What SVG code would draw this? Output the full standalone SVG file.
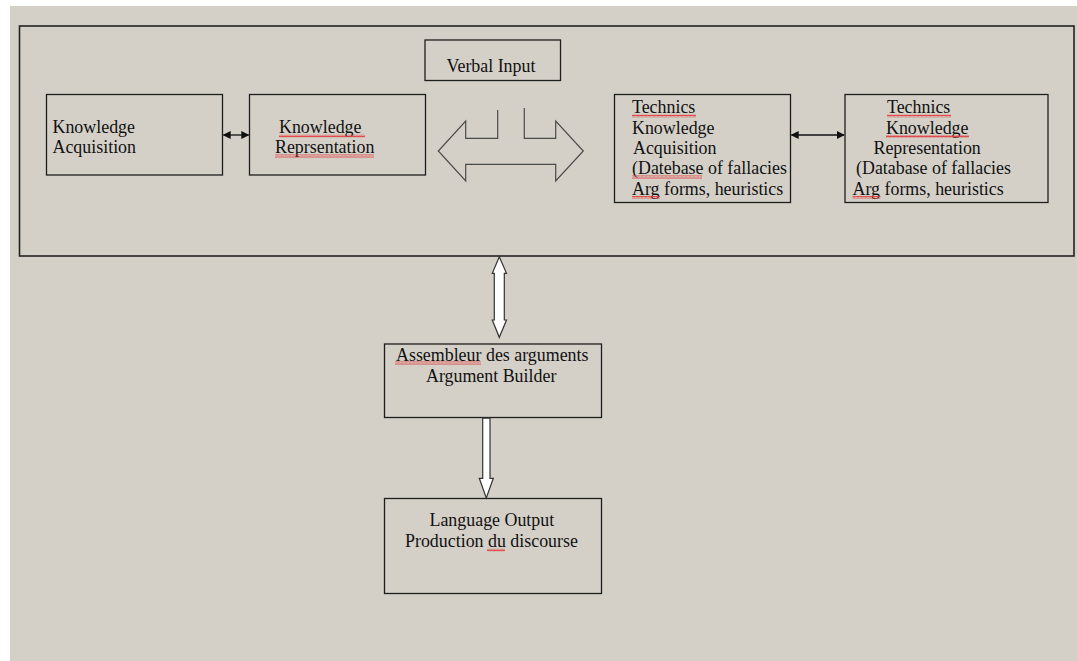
<svg xmlns="http://www.w3.org/2000/svg" width="1077" height="661" viewBox="0 0 1077 661">
<style>
.box{fill:none;stroke:#1e1e1e;stroke-width:1.3}
.t{font-family:"Liberation Serif","Times New Roman",serif;font-size:17.9px;fill:#111}
.conn{fill:none;stroke:#111;stroke-width:1.3}
.fat{fill:#fff;stroke:#333;stroke-width:1.2}
</style>
<defs>
<marker id="ah" viewBox="0 0 10 10" refX="9" refY="5" markerWidth="8" markerHeight="8" markerUnits="userSpaceOnUse" orient="auto-start-reverse">
<path d="M0,0 L10,5 L0,10 z" fill="#111"/>
</marker>
<pattern id="zz" x="0" y="0" width="4" height="3" patternUnits="userSpaceOnUse">
<path d="M0,2.5 L1,0.5 L2,2.5 L3,0.5 L4,2.5" fill="none" stroke="#e04040" stroke-width="0.9"/>
</pattern>
</defs>
<rect x="0" y="0" width="1077" height="661" fill="#ffffff"/>
<rect x="10" y="6" width="1067" height="655" fill="#d4d0c8"/>
<rect x="19.5" y="26" width="1054.5" height="230" fill="none" stroke="#222" stroke-width="1.6"/>

<g id="verbal-input">
<rect class="box" x="425" y="40" width="135.5" height="40.5"/>
<text class="t" x="446.5" y="71.5">Verbal Input</text>
</g>

<g id="knowledge-acquisition">
<rect class="box" x="46.5" y="94.5" width="176" height="80.5"/>
<text class="t" x="52.5" y="133.3">Knowledge</text>
<text class="t" x="52.5" y="153.3">Acquisition</text>
</g>

<g id="knowledge-representation">
<rect class="box" x="249.5" y="94.5" width="176" height="80.5"/>
<text class="t" x="279" y="133.3">Knowledge</text>
<text class="t" x="275" y="153.3">Reprsentation</text>
<rect x="279" y="134.5" width="86" height="3" fill="url(#zz)"/>
<rect x="275" y="154.5" width="99" height="3" fill="url(#zz)"/>
</g>

<g id="technics-acquisition">
<rect class="box" x="614.5" y="94.5" width="176" height="108"/>
<text class="t" x="632" y="113.3">Technics</text>
<text class="t" x="632" y="133.5">Knowledge</text>
<text class="t" x="633" y="153.8">Acquisition</text>
<text class="t" x="632" y="174.3">(Datebase of fallacies</text>
<text class="t" x="632" y="194.8">Arg forms, heuristics</text>
<rect x="632" y="114.5" width="64" height="3" fill="url(#zz)"/>
<rect x="632" y="175.5" width="70" height="3" fill="url(#zz)"/>
<rect x="632" y="196" width="28" height="3" fill="url(#zz)"/>
</g>

<g id="technics-representation">
<rect class="box" x="845" y="94.5" width="203" height="108"/>
<text class="t" x="887" y="113.3">Technics</text>
<text class="t" x="886" y="133.5">Knowledge</text>
<text class="t" x="873.5" y="153.8">Representation</text>
<text class="t" x="856" y="174.3">(Database of fallacies</text>
<text class="t" x="852.5" y="194.8">Arg forms, heuristics</text>
<rect x="887" y="114.5" width="64" height="3" fill="url(#zz)"/>
<rect x="886" y="135" width="83" height="3" fill="url(#zz)"/>
<rect x="852.5" y="196" width="28" height="3" fill="url(#zz)"/>
</g>

<g id="argument-builder">
<rect class="box" x="384.5" y="344" width="217" height="73.5"/>
<text class="t" x="396" y="361">Assembleur des arguments</text>
<text class="t" x="426" y="381.5">Argument Builder</text>
<rect x="395" y="361.5" width="86" height="3" fill="url(#zz)"/>
</g>

<g id="language-output">
<rect class="box" x="384.5" y="498.5" width="217" height="95"/>
<text class="t" x="429.5" y="526">Language Output</text>
<text class="t" x="405" y="546.5">Production du discourse</text>
<rect x="487" y="548.5" width="18" height="3" fill="url(#zz)"/>
</g>

<g id="connectors">
<line class="conn" x1="223.5" y1="135" x2="248.5" y2="135" marker-start="url(#ah)" marker-end="url(#ah)"/>
<line class="conn" x1="791.5" y1="135" x2="844" y2="135" marker-start="url(#ah)" marker-end="url(#ah)"/>
<path d="M497.7,110 V138.3 H465.7 V121 L438.3,151 L465.7,181 V164.3 H555.7 V181 L583.3,151 L555.7,121 V138.3 H524.3 V108" fill="none" stroke="#4a4a4a" stroke-width="1.2"/>
<polygon class="fat" points="499.3,256.7 506.5,273.3 504.3,273.3 504.3,320 506.5,320 499.3,337.3 492.3,320 494.3,320 494.3,273.3 492.3,273.3"/>
<polygon class="fat" points="482.7,418.2 490,418.2 490,478.3 493.3,478.3 486.3,498 479.3,478.3 482.7,478.3"/>
</g>
</svg>
